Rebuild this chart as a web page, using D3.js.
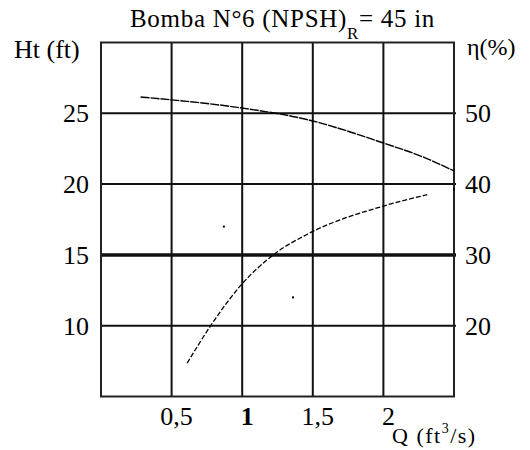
<!DOCTYPE html>
<html>
<head>
<meta charset="utf-8">
<script src="https://cdn.jsdelivr.net/npm/d3@7"></script>
<style>
  body { margin: 0; background: white; }
  text { font-family: "Liberation Serif", "Times New Roman", serif; fill: black; }
</style>
</head>
<body>
<div id="container"></div>
<script>
let w = 530;
let h = 450;

// DATA
let qTicks = [0.5, 1, 1.5, 2];
let qTickLabels = ["0,5", "1", "1,5", "2"];
let htTicks = [10, 15, 20, 25];
let etaTicks = [20, 30, 40, 50];

// head curve Ht (ft) vs Q (ft3/s)
let headQ = [0.28, 0.5, 1.0, 1.5, 1.76, 2.0, 2.26, 2.5];
let headHt = [26.15, 25.95, 25.37, 24.46, 23.7, 22.9, 22.0, 20.93];

// efficiency curve (%) vs Q
let effQ = [0.61, 0.77, 0.99, 1.22, 1.48, 2.0, 2.31];
let effEta = [14.7, 19.8, 25.7, 30.0, 33.1, 36.9, 38.5];

// loose points in the figure
let strayQ = [0.87, 1.36, 2.5];
let strayEta = [34.0, 24.0, 39.3];

let plotL = 101, plotR = 454, plotT = 42.5, plotB = 396.5;

let viz = d3.select("#container").append("svg")
  .attr("width", w)
  .attr("height", h)
  .style("background-color", "white");

let x = d3.scaleLinear().domain([0, 2.5]).range([plotL, plotR]);
let yH = d3.scaleLinear().domain([5, 30]).range([plotB, plotT]);
let yE = d3.scaleLinear().domain([10, 60]).range([plotB, plotT]);

// grid
viz.selectAll(".vgrid").data(qTicks).enter()
  .append("line")
  .attr("class", "vgrid")
  .attr("x1", d => x(d)).attr("x2", d => x(d))
  .attr("y1", plotT).attr("y2", plotB)
  .attr("stroke", "#111")
  .attr("stroke-width", 2);

viz.selectAll(".hgrid").data(htTicks).enter()
  .append("line")
  .attr("class", "hgrid")
  .attr("x1", plotL).attr("x2", plotR + 2)
  .attr("y1", d => yH(d)).attr("y2", d => yH(d))
  .attr("stroke", "#111")
  .attr("stroke-width", d => d == 15 ? 3.5 : 2);

viz.append("rect")
  .attr("x", plotL).attr("y", plotT)
  .attr("width", plotR - plotL).attr("height", plotB - plotT)
  .attr("fill", "none")
  .attr("stroke", "#222")
  .attr("stroke-width", 2);

// tick labels
viz.selectAll(".htlab").data(htTicks).enter()
  .append("text")
  .attr("class", "htlab")
  .attr("x", 89)
  .attr("y", d => yH(d) + 9)
  .attr("text-anchor", "end")
  .attr("font-size", 26)
  .text(d => d);

viz.selectAll(".etalab").data(etaTicks).enter()
  .append("text")
  .attr("class", "etalab")
  .attr("x", 465)
  .attr("y", d => yE(d) + 9)
  .attr("font-size", 26)
  .text(d => d);

viz.selectAll(".qlab").data(qTicks).enter()
  .append("text")
  .attr("class", "qlab")
  .attr("x", d => x(d) + 5)
  .attr("y", 425)
  .attr("text-anchor", "middle")
  .attr("font-size", 26)
  .attr("font-weight", d => d == 1 ? "bold" : "normal")
  .text((d, i) => qTickLabels[i]);

// curves
let headLine = d3.line()
  .x(d => x(d[0]))
  .y(d => yH(d[1]))
  .curve(d3.curveMonotoneX);

let effLine = d3.line()
  .x(d => x(d[0]))
  .y(d => yE(d[1]))
  .curve(d3.curveMonotoneX);

viz.append("path")
  .attr("d", headLine(headQ.map((q, i) => [q, headHt[i]])))
  .attr("fill", "none")
  .attr("stroke", "black")
  .attr("stroke-width", 1.4)
  .attr("stroke-dasharray", "9,1");

viz.append("path")
  .attr("d", effLine(effQ.map((q, i) => [q, effEta[i]])))
  .attr("fill", "none")
  .attr("stroke", "black")
  .attr("stroke-width", 1.3)
  .attr("stroke-dasharray", "5,2");

viz.selectAll(".stray").data(strayQ).enter()
  .append("rect")
  .attr("class", "stray")
  .attr("x", d => x(d) - 1)
  .attr("y", (d, i) => yE(strayEta[i]) - 1)
  .attr("width", 2).attr("height", 2)
  .attr("fill", "black");

// titles
let title = viz.append("text")
  .attr("x", 130)
  .attr("y", 27)
  .attr("font-size", 25)
  .attr("letter-spacing", 0.7);
title.append("tspan").text("Bomba N°6 (NPSH)");
title.append("tspan").attr("font-size", 17).attr("dy", 12).text("R");
title.append("tspan").attr("dy", -12).text("= 45 in");

viz.append("text")
  .attr("x", 14)
  .attr("y", 58)
  .attr("font-size", 26)
  .text("Ht (ft)");

viz.append("text")
  .attr("x", 467)
  .attr("y", 55)
  .attr("font-size", 24)
  .text("η(%)");

let qLab = viz.append("text")
  .attr("x", 392)
  .attr("y", 443)
  .attr("font-size", 22)
  .attr("letter-spacing", 1.5);
qLab.append("tspan").text("Q (ft");
qLab.append("tspan").attr("font-size", 14).attr("dy", -10).text("3");
qLab.append("tspan").attr("dy", 10).text("/s)");
</script>
</body>
</html>
